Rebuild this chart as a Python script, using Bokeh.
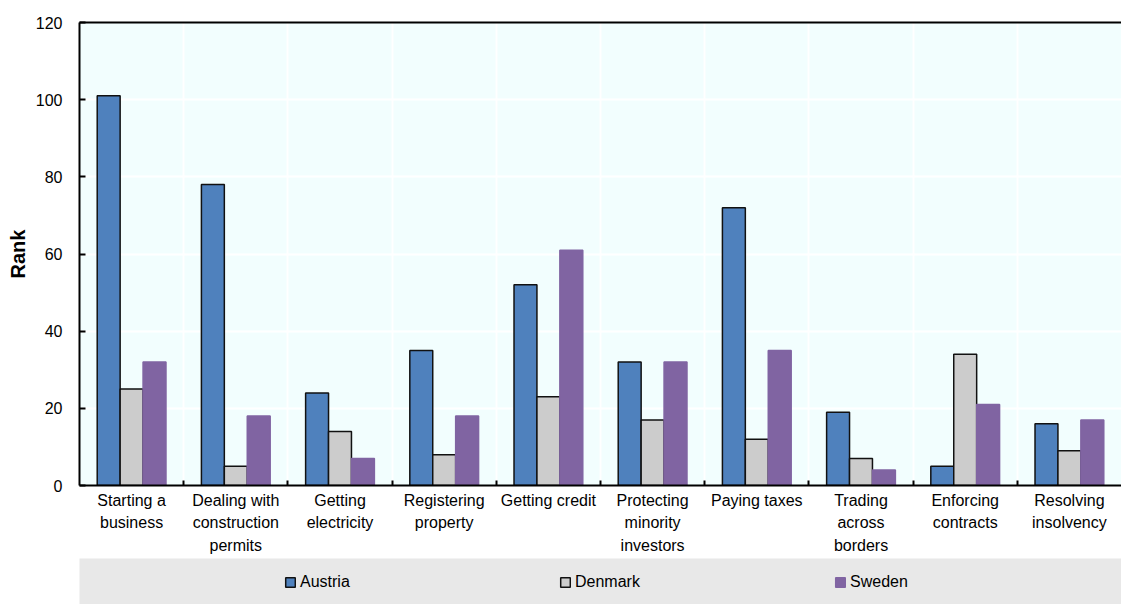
import numpy as np
from bokeh.plotting import figure
from bokeh.layouts import column
from bokeh.models import FixedTicker, LinearAxis, Legend, LegendItem, Range1d
from bokeh.embed import file_html
from bokeh.resources import INLINE

categories = ["Starting a\nbusiness", "Dealing with\nconstruction\npermits", "Getting\nelectricity",
              "Registering\nproperty", "Getting credit", "Protecting\nminority\ninvestors",
              "Paying taxes", "Trading\nacross\nborders", "Enforcing\ncontracts", "Resolving\ninsolvency"]
series_names = ["Austria", "Denmark", "Sweden"]
austria = [101, 78, 24, 35, 52, 32, 72, 19, 5, 16]
denmark = [25, 5, 14, 8, 23, 17, 12, 7, 34, 9]
sweden = [32, 18, 7, 18, 61, 32, 35, 4, 21, 17]
y_ticks = [0, 20, 40, 60, 80, 100, 120]

FONT = "Liberation Sans"
colors = ["#4f81bd", "#cccccc", "#8064a2"]
outlines = ["#111111", "#111111", "#8064a2"]

n = len(categories)
idx = np.arange(n)

p = figure(width=1121, height=558, output_backend="svg", toolbar_location=None,
           x_range=Range1d(-0.5, n - 0.5), y_range=Range1d(0, 120),
           min_border_left=79, min_border_top=22, min_border_bottom=73, min_border_right=0)
p.background_fill_color = "#f2fefe"
p.border_fill_color = "white"
p.outline_line_color = None

bw = 0.22
for k, (vals, c, lc) in enumerate(zip([austria, denmark, sweden], colors, outlines)):
    p.vbar(x=idx + (k - 1) * bw, top=vals, bottom=0, width=bw,
           fill_color=c, line_color=lc, line_width=1.5)

# x axis
xa = p.xaxis[0]
xa.ticker = FixedTicker(ticks=list(range(n)), minor_ticks=[i + 0.5 for i in range(n - 1)])
xa.major_label_overrides = {i: categories[i] for i in range(n)}
xa.major_tick_in = 0
xa.major_tick_out = 0
xa.minor_tick_in = 5
xa.minor_tick_out = 0
xa.minor_tick_line_color = "black"
xa.minor_tick_line_width = 2
xa.axis_line_color = "black"
xa.axis_line_width = 2
xa.major_label_text_font = FONT
xa.major_label_text_font_size = "16px"
xa.major_label_text_color = "black"
xa.major_label_text_line_height = 1.35
xa.major_label_standoff = 6

# y axis
ya = p.yaxis[0]
ya.ticker = FixedTicker(ticks=y_ticks)
ya.major_tick_in = 6
ya.major_tick_out = 0
ya.major_tick_line_color = "black"
ya.major_tick_line_width = 2
ya.minor_tick_in = 0
ya.minor_tick_out = 0
ya.axis_line_color = "black"
ya.axis_line_width = 2
ya.major_label_text_font = FONT
ya.major_label_text_font_size = "16px"
ya.major_label_text_color = "black"
ya.major_label_standoff = 17
ya.axis_label = "Rank"
ya.axis_label_text_font = FONT
ya.axis_label_text_font_size = "20px"
ya.axis_label_text_font_style = "bold"
ya.axis_label_text_color = "black"
ya.axis_label_standoff = 4

# top border line
top = LinearAxis(ticker=FixedTicker(ticks=[]), axis_line_width=2, axis_line_color="black",
                 major_tick_in=0, major_tick_out=0, minor_tick_in=0, minor_tick_out=0,
                 major_label_text_font_size="0px", major_label_standoff=0)
p.add_layout(top, "above")

# grids
p.xgrid.ticker = FixedTicker(ticks=[i + 0.5 for i in range(n - 1)])
p.ygrid.ticker = FixedTicker(ticks=y_ticks)
for g in (p.xgrid[0], p.ygrid[0]):
    g.grid_line_color = "white"
    g.grid_line_width = 2

# legend strip
lg = figure(width=1121, height=46, output_backend="svg", toolbar_location=None,
            x_range=Range1d(0, 1), y_range=Range1d(0, 1), x_axis_type=None, y_axis_type=None,
            min_border_left=71, min_border_right=0, min_border_top=0, min_border_bottom=0)
lg.background_fill_color = "#e8e8e8"
lg.border_fill_color = "white"
lg.outline_line_color = None
lg.grid.visible = False
proxies = []
for c, lc in zip(colors, outlines):
    # legend-only proxies (no visible mark)
    proxies.append(lg.vbar(x=[np.nan], top=[np.nan], width=0.1,
                           fill_color=c, line_color=lc, line_width=1.5))

legend = Legend(items=[LegendItem(label=s, renderers=[r]) for s, r in zip(series_names, proxies)],
                orientation="horizontal", location=(205, 13), padding=0, margin=0,
                spacing=193, label_width=66, glyph_width=12, glyph_height=12, label_standoff=4,
                background_fill_alpha=0.0, border_line_color=None,
                label_text_font=FONT, label_text_font_size="16px", label_text_color="black")
lg.add_layout(legend, "center")

layout = column(p, lg, spacing=0)
open("out.html", "w").write(file_html(layout, INLINE))
